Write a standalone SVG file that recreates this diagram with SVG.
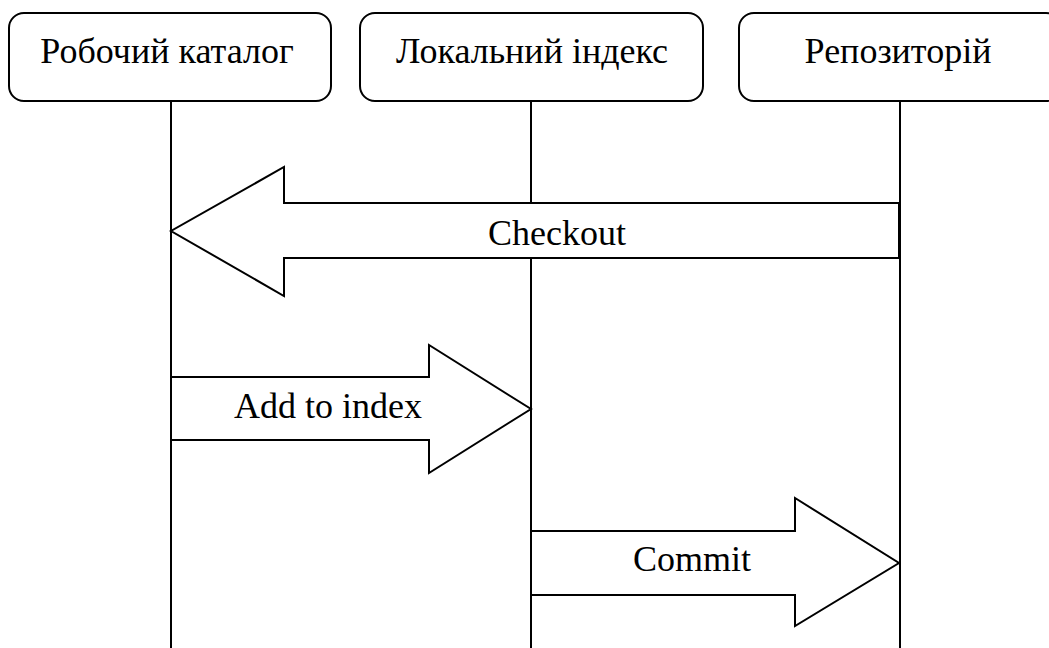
<svg xmlns="http://www.w3.org/2000/svg" width="1049" height="648" viewBox="0 0 1049 648">
<style>
.box{fill:#fff;stroke:#000;stroke-width:2}
.life{stroke:#000;stroke-width:2;fill:none}
.arr{fill:#fff;stroke:#000;stroke-width:2;stroke-linejoin:miter}
.t{font-size:36px;fill:#000;text-anchor:middle}
</style>
<rect width="1049" height="648" fill="#fff"/>
<g id="connectors">
<line class="life" x1="171" y1="101" x2="171" y2="648"/>
<line class="life" x1="531" y1="101" x2="531" y2="648"/>
<line class="life" x1="900" y1="101" x2="900" y2="648"/>
</g>
<g font-family="Liberation Serif, Times New Roman, DejaVu Serif, serif">
<g id="node-work">
<rect class="box" x="9" y="13" width="322" height="88" rx="15" ry="15"/>
<text class="t" x="167" y="63">Робочий каталог</text>
</g>
<g id="node-index">
<rect class="box" x="360" y="13" width="343" height="88" rx="15" ry="15"/>
<text class="t" x="532" y="63">Локальний індекс</text>
</g>
<g id="node-repo">
<rect class="box" x="739" y="13" width="322" height="88" rx="15" ry="15"/>
<text class="t" x="898" y="63">Репозиторій</text>
</g>
<g id="arrow-checkout">
<polygon class="arr" points="899,203 284,203 284,167 171,231 284,296 284,258 899,258"/>
<text class="t" x="557" y="245">Checkout</text>
</g>
<g id="arrow-add">
<polygon class="arr" points="171,377 429,377 429,345 531,409 429,473 429,440 171,440"/>
<text class="t" x="328" y="418">Add to index</text>
</g>
<g id="arrow-commit">
<polygon class="arr" points="531,531 795,531 795,498 899,563 795,626 795,595 531,595"/>
<text class="t" x="692" y="571">Commit</text>
</g>
</g>
</svg>
